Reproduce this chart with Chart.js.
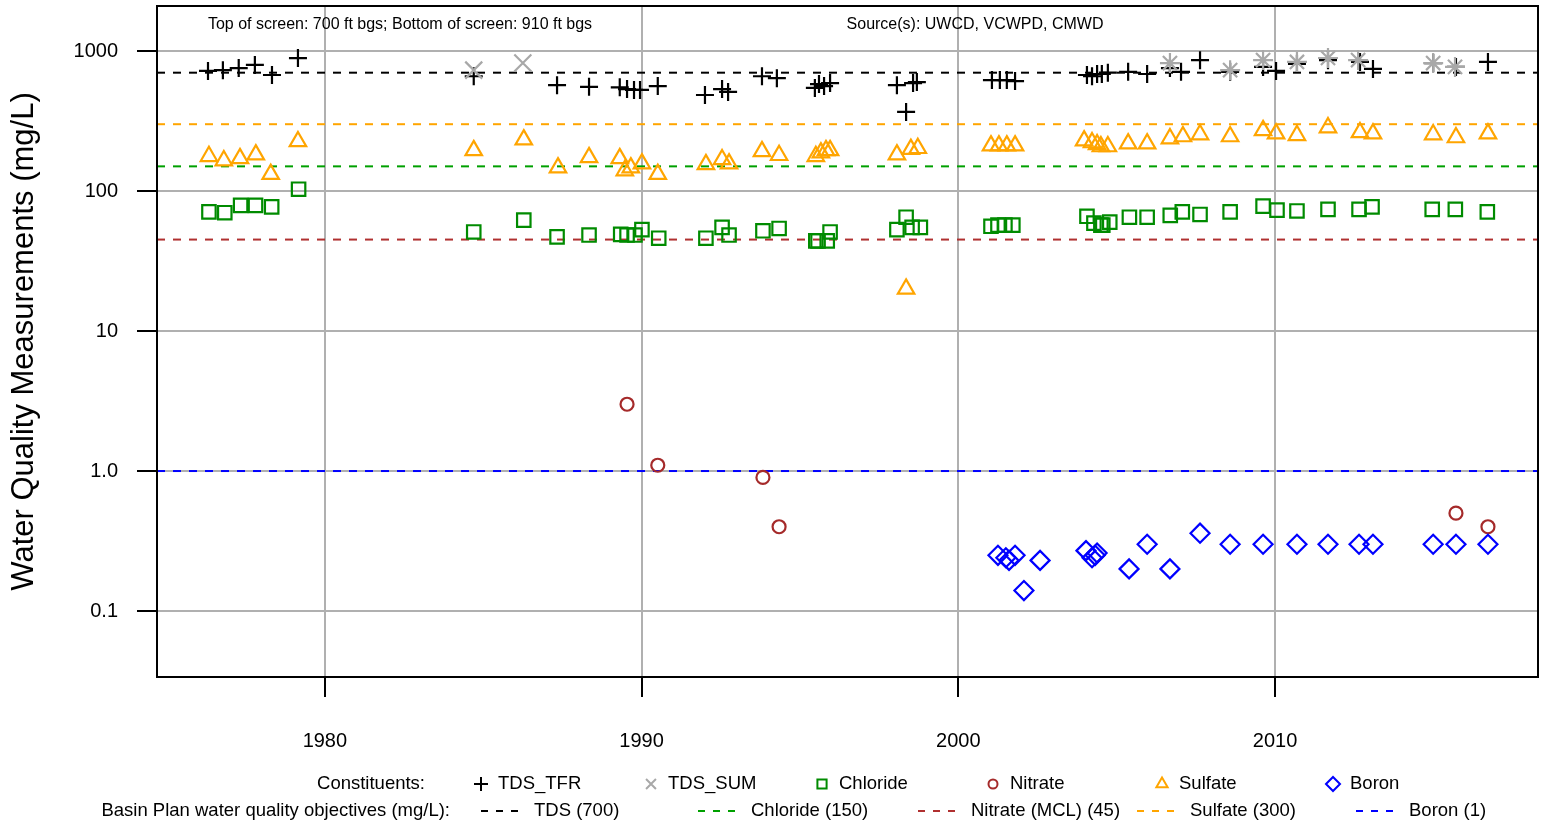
<!DOCTYPE html>
<html>
<head>
<meta charset="utf-8">
<script src="https://cdn.jsdelivr.net/npm/chart.js@4.4.1/dist/chart.umd.min.js"></script>
<style>
  html, body { margin: 0; padding: 0; background: #fff; }
  #wq-chart { display: block; }
</style>
</head>
<body>
<canvas id="wq-chart" width="1546" height="824"></canvas>
<script>
// axis limits and ticks
const X_MIN = 1974.7;
const X_MAX = 2018.3;
const Y_MIN = 0.0338;
const Y_MAX = 2096;
const yearTicks = [1980, 1990, 2000, 2010];
const valueTicks = [0.1, 1, 10, 100, 1000];
const valueTickLabels = ["0.1", "1.0", "10", "100", "1000"];

// measurements (decimal year / mg/L)
const tdsTfrYears = [1976.31, 1976.78, 1977.28, 1977.79, 1978.33, 1979.15, 1984.70, 1987.33, 1988.34, 1989.31, 1989.54, 1989.76, 1989.95, 1990.51, 1992.00, 1992.54, 1992.73, 1993.80, 1994.27, 1995.47, 1995.60, 1995.76, 1995.95, 1998.06, 1998.35, 1998.57, 1998.69, 2001.06, 2001.31, 2001.53, 2001.79, 2004.06, 2004.22, 2004.38, 2004.53, 2004.72, 2005.36, 2005.96, 2006.68, 2007.03, 2007.63, 2008.58, 2009.62, 2010.03, 2010.69, 2011.67, 2012.68, 2013.09, 2014.99, 2015.71, 2016.72];
const tdsTfrValues = [720, 730, 755, 795, 674, 890, 660, 570, 555, 550, 535, 527, 527, 562, 485, 535, 510, 660, 640, 545, 580, 562, 590, 570, 367, 590, 600, 620, 620, 620, 610, 674, 660, 685, 685, 700, 710, 685, 755, 710, 860, 710, 770, 720, 810, 860, 835, 745, 820, 770, 835];

const tdsSumYears = [1984.70, 1986.25, 2006.68, 2008.58, 2009.62, 2010.69, 2011.67, 2012.62, 2014.99, 2015.68];
const tdsSumValues = [730, 820, 820, 730, 862, 835, 891, 862, 820, 770];

const chlorideYears = [1976.34, 1976.84, 1977.34, 1977.81, 1978.32, 1979.17, 1984.70, 1986.28, 1987.33, 1988.34, 1989.34, 1989.54, 1989.79, 1990.01, 1990.54, 1992.03, 1992.54, 1992.76, 1993.83, 1994.34, 1995.50, 1995.57, 1995.86, 1995.95, 1998.06, 1998.35, 1998.54, 1998.80, 2001.03, 2001.25, 2001.47, 2001.72, 2004.06, 2004.28, 2004.50, 2004.56, 2004.78, 2005.40, 2005.96, 2006.69, 2007.07, 2007.63, 2008.58, 2009.62, 2010.06, 2010.69, 2011.67, 2012.65, 2013.06, 2014.96, 2015.69, 2016.70];
const chlorideValues = [71, 70, 79, 79, 77, 103, 51, 62, 47, 48.5, 49, 48.5, 48.5, 53, 46, 46, 55, 48.5, 52, 54, 44, 44, 44, 51, 53, 65, 55, 55, 56, 57, 57, 57, 66, 59, 57, 57, 60, 65, 65, 67, 71, 68, 71, 78, 73, 72, 74, 74, 77, 74, 74, 71];

const nitrateYears = [1989.54, 1990.51, 1993.83, 1994.34, 2015.71, 2016.72];
const nitrateValues = [3.0, 1.1, 0.9, 0.4, 0.5, 0.4];

const sulfateYears = [1976.34, 1976.81, 1977.32, 1977.82, 1978.29, 1979.15, 1984.70, 1986.28, 1987.36, 1988.34, 1989.31, 1989.47, 1989.66, 1990.01, 1990.51, 1992.03, 1992.54, 1992.76, 1993.80, 1994.34, 1995.50, 1995.66, 1995.82, 1995.95, 1998.06, 1998.35, 1998.50, 1998.72, 2001.03, 2001.28, 2001.53, 2001.79, 2003.97, 2004.22, 2004.38, 2004.50, 2004.72, 2005.36, 2005.96, 2006.68, 2007.09, 2007.63, 2008.58, 2009.62, 2010.03, 2010.69, 2011.67, 2012.68, 2013.09, 2014.99, 2015.71, 2016.72];
const sulfateValues = [177, 165, 171, 182, 132, 226, 195, 233, 147, 174, 171, 140, 147, 157, 132, 155, 168, 157, 192, 180, 177, 188, 195, 195, 182, 20, 199, 202, 211, 211, 211, 211, 229, 222, 215, 208, 208, 218, 218, 237, 245, 253, 245, 271, 257, 250, 284, 262, 257, 253, 241, 257];

const boronYears = [2001.25, 2001.50, 2001.60, 2001.79, 2002.07, 2002.58, 2004.03, 2004.22, 2004.32, 2004.38, 2005.39, 2005.96, 2006.68, 2007.63, 2008.58, 2009.62, 2010.69, 2011.67, 2012.65, 2013.09, 2014.99, 2015.71, 2016.72];
const boronValues = [0.25, 0.24, 0.23, 0.25, 0.14, 0.23, 0.27, 0.24, 0.25, 0.26, 0.2, 0.3, 0.2, 0.36, 0.3, 0.3, 0.3, 0.3, 0.3, 0.3, 0.3, 0.3, 0.3];

// basin plan objectives
const objectiveNames = ["TDS (700)", "Chloride (150)", "Nitrate (MCL) (45)", "Sulfate (300)", "Boron (1)"];
const objectiveValues = [700, 150, 45, 300, 1];
const objectiveColors = ["#000000", "#00a000", "#b03030", "#ffa500", "#0000ff"];

const constituentNames = ["TDS_TFR", "TDS_SUM", "Chloride", "Nitrate", "Sulfate", "Boron"];

const FONT = "'Liberation Sans', Arial, Helvetica, sans-serif";
Chart.defaults.font.family = FONT;
Chart.defaults.color = "#000";

function toPoints(xs, ys) {
    return xs.map((x, i) => ({x: x, y: ys[i]}));
}

function markerSet(label, xs, ys, style, radius, color, order) {
    return {
        type: "scatter",
        label: label,
        data: toPoints(xs, ys),
        pointStyle: style,
        pointRadius: radius,
        pointHoverRadius: radius,
        pointBorderColor: color,
        pointBackgroundColor: "rgba(0,0,0,0)",
        pointBorderWidth: 2.2,
        order: order
    };
}

const datasets = [];

objectiveValues.forEach((v, i) => {
    datasets.push({
        type: "line",
        label: objectiveNames[i],
        data: [{x: X_MIN, y: v}, {x: X_MAX, y: v}],
        borderColor: objectiveColors[i],
        borderWidth: 2,
        borderDash: [8, 8],
        pointRadius: 0,
        fill: false,
        order: 20
    });
});

datasets.push(markerSet("TDS_TFR", tdsTfrYears, tdsTfrValues, "cross", 9, "#000000", 6));

const tdsSum = markerSet("TDS_SUM", tdsSumYears, tdsSumValues, "crossRot", 12, "#a8a8a8", 5);
tdsSum.pointStyle = c => (c.raw && c.raw.x > 2000 ? "star" : "crossRot");
tdsSum.pointRadius = c => (c.raw && c.raw.x > 2000 ? 10 : 12);
datasets.push(tdsSum);

datasets.push(markerSet("Chloride", chlorideYears, chlorideValues, "rect", 9.5, "#008b00", 4));
datasets.push(markerSet("Nitrate", nitrateYears, nitrateValues, "circle", 6.5, "#a52a2a", 3));
datasets.push(markerSet("Sulfate", sulfateYears, sulfateValues, "triangle", 9.5, "#ffa500", 2));
datasets.push(markerSet("Boron", boronYears, boronValues, "rectRot", 9.5, "#0000ff", 1));

function drawSymbol(ctx, style, radius, x, y, color) {
    ctx.save();
    ctx.strokeStyle = color;
    ctx.fillStyle = "rgba(0,0,0,0)";
    ctx.lineWidth = 2;
    ctx.setLineDash([]);
    Chart.helpers.drawPoint(ctx, {pointStyle: style, radius: radius, borderWidth: 2, rotation: 0}, x, y);
    ctx.restore();
}

// frame, header notes and the two-row legend under the axis
const framePlugin = {
    id: "framePlugin",
    afterDraw(chart) {
        const ctx = chart.ctx;
        const a = chart.chartArea;
        ctx.save();
        ctx.strokeStyle = "#000";
        ctx.lineWidth = 2;
        ctx.strokeRect(a.left, a.top, a.right - a.left, a.bottom - a.top);

        ctx.fillStyle = "#000";
        ctx.textBaseline = "middle";
        ctx.font = "16px " + FONT;
        ctx.textAlign = "center";
        ctx.fillText("Top of screen: 700 ft bgs; Bottom of screen: 910 ft bgs", 400, 25);
        ctx.fillText("Source(s): UWCD, VCWPD, CMWD", 975, 25);

        ctx.font = "18.5px " + FONT;
        const row1 = 784;
        const row2 = 811;
        ctx.textAlign = "right";
        ctx.fillText("Constituents:", 425, row1);
        ctx.fillText("Basin Plan water quality objectives (mg/L):", 450, row2);

        const symX = [481, 651, 822, 993, 1162, 1333];
        const symStyle = ["cross", "crossRot", "rect", "circle", "triangle", "rectRot"];
        const symRadius = [7, 7, 6.5, 4.5, 6.5, 7];
        const symColor = ["#000000", "#a8a8a8", "#008b00", "#a52a2a", "#ffa500", "#0000ff"];
        constituentNames.forEach((name, i) => {
            drawSymbol(ctx, symStyle[i], symRadius[i], symX[i], row1, symColor[i]);
            ctx.fillStyle = "#000";
            ctx.textAlign = "left";
            ctx.fillText(name, symX[i] + 17, row1);
        });

        const lineX = [481, 698, 918, 1137, 1356];
        objectiveNames.forEach((name, i) => {
            ctx.save();
            ctx.strokeStyle = objectiveColors[i];
            ctx.lineWidth = 2;
            ctx.setLineDash([7, 8]);
            ctx.beginPath();
            ctx.moveTo(lineX[i], row2);
            ctx.lineTo(lineX[i] + 37, row2);
            ctx.stroke();
            ctx.restore();
            ctx.fillStyle = "#000";
            ctx.textAlign = "left";
            ctx.fillText(name, lineX[i] + 53, row2);
        });
        ctx.restore();
    }
};

const gridStyle = {
    color: "#b0b0b0",
    lineWidth: 2,
    tickColor: "#000",
    tickLength: 20,
    tickWidth: 2
};

// keep the plot box where the reference has it
function noPadding(s) {
    s.paddingTop = 0;
    s.paddingBottom = 0;
    s.paddingLeft = 0;
    s.paddingRight = 0;
}

new Chart(document.getElementById("wq-chart"), {
    data: {datasets: datasets},
    options: {
        responsive: false,
        animation: false,
        devicePixelRatio: 1,
        layout: {autoPadding: false, padding: {top: 6, right: 8, left: 0, bottom: 0}},
        plugins: {
            legend: {display: false},
            tooltip: {enabled: false}
        },
        scales: {
            x: {
                type: "linear",
                min: X_MIN,
                max: X_MAX,
                afterBuildTicks: s => { s.ticks = yearTicks.map(v => ({value: v})); },
                afterFit: s => { s.height = 147; noPadding(s); },
                grid: gridStyle,
                border: {display: false},
                ticks: {
                    font: {size: 20},
                    padding: 32,
                    maxRotation: 0,
                    callback: v => String(v)
                }
            },
            y: {
                type: "logarithmic",
                min: Y_MIN,
                max: Y_MAX,
                afterBuildTicks: s => { s.ticks = valueTicks.map(v => ({value: v})); },
                afterFit: s => { s.width = 157; noPadding(s); },
                grid: gridStyle,
                border: {display: false},
                ticks: {
                    font: {size: 20},
                    padding: 19,
                    callback: v => valueTickLabels[Math.round(Math.log10(v)) + 1]
                },
                title: {
                    display: true,
                    text: "Water Quality Measurements (mg/L)",
                    font: {size: 31},
                    padding: {top: 6, bottom: 0}
                }
            }
        }
    },
    plugins: [framePlugin]
});
</script>
</body>
</html>
